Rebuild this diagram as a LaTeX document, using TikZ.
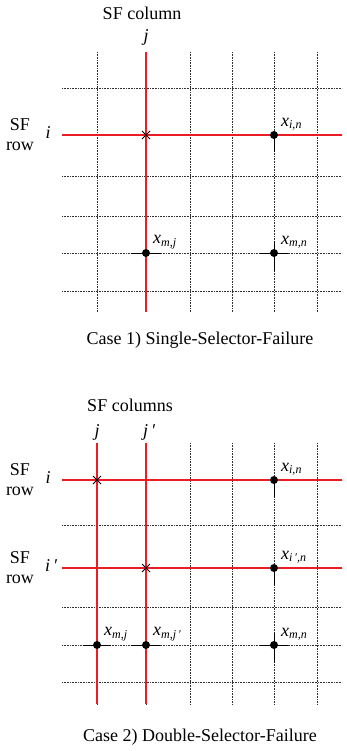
\documentclass[tikz,border=0pt]{standalone}
\usepackage{fontspec}
\setmainfont{Liberation Serif}
\usetikzlibrary{positioning, shapes.misc}

\definecolor{sfred}{RGB}{236,28,36}
\newcommand{\cellvar}[2]{\textit{#1}\raisebox{-0.3ex}{\fontsize{12}{13}\selectfont\textit{#2}}}

\begin{document}
\begin{tikzpicture}[x=1pt, y=-1pt,
		gridline/.style={black!80, line width=0.6pt, dash pattern=on 0.7pt off 0.9pt},
		sfline/.style={sfred, line width=1.9pt},
		tickline/.style={black, line width=0.7pt},
		bit/.style={circle, fill=black, inner sep=0pt, minimum size=8pt},
		failbit/.style={draw, cross out, inner sep=0pt, minimum size=7pt, line width=1pt},
		lbl/.style={font=\fontsize{18}{20}\selectfont},
		idx/.style={font=\fontsize{18}{20}\selectfont\itshape},
		varlbl/.style={font=\fontsize{18}{20}\selectfont, inner sep=1pt, anchor=south west}]
	\useasboundingbox (0,0) rectangle (347,751);
	% ---------- case 1: one failed row and one failed column ----------
	\foreach \cx in {97,146,190,232,274,317}
	\draw[gridline] (\cx,52) -- (\cx,312);
	\foreach \ry in {88,135,176,216,253,291}
	\draw[gridline] (62,\ry) -- (342,\ry);
	\draw[sfline] (146,52) -- (146,312);
	\draw[sfline] (62,135) -- (342,135);
	% short solid ticks round the read bits
	\draw[tickline] (274,135) -- (274,152);
	\draw[tickline] (131,253) -- (161,253);
	\draw[tickline] (260,253) -- (288,253) (274,241) -- (274,271);
	\node[failbit] (fail1) at (146,135) {};
	\node[bit] (in1) at (274,135) {};
	\node[bit] (mj1) at (146,253) {};
	\node[bit] (mn1) at (274,253) {};
	\node[varlbl] at ([xshift=3pt, yshift=0pt]in1.north east) {\cellvar{x}{i,n}};
	\node[varlbl] at ([xshift=3pt, yshift=0pt]mj1.north east) {\cellvar{x}{m,j}};
	\node[varlbl] at ([xshift=3pt, yshift=0pt]mn1.north east) {\cellvar{x}{m,n}};
	\node[lbl] (col1) at (142,13) {SF column};
	\node[idx] (j1) at (146,37) {j};
	\node[lbl, align=center] (row1) at (20,135) {SF\\row};
	\node[idx] (i1) at (48,133) {i};
	\node[lbl] (case1) at (200,340) {Case 1) Single-Selector-Failure};
	% ---------- case 2: two failed rows and two failed columns ----------
	\foreach \cx in {97,146,190,232,274,317}
	\draw[gridline] (\cx,443) -- (\cx,704);
	\foreach \ry in {480,525,568,607,645,682}
	\draw[gridline] (62,\ry) -- (342,\ry);
	\foreach \cx in {97,146}
	\draw[sfline] (\cx,443) -- (\cx,704);
	\foreach \ry in {480,568}
	\draw[sfline] (62,\ry) -- (342,\ry);
	\draw[tickline] (274,480) -- (274,497);
	\draw[tickline] (274,568) -- (274,585);
	\draw[tickline] (83,645) -- (111,645) (131,645) -- (160,645);
	\draw[tickline] (260,645) -- (288,645) (274,633) -- (274,663);
	\node[failbit] (fail2) at (97,480) {};
	\node[failbit] (fail3) at (146,568) {};
	\node[bit] (in2) at (274,480) {};
	\node[bit] (ipn2) at (274,568) {};
	\node[bit] (mj2) at (97,645) {};
	\node[bit] (mjp2) at (146,645) {};
	\node[bit] (mn2) at (274,645) {};
	\node[varlbl] at ([xshift=3pt, yshift=0pt]in2.north east) {\cellvar{x}{i,n}};
	\node[varlbl] at ([xshift=3pt, yshift=0pt]ipn2.north east) {\cellvar{x}{i\,′,n}};
	\node[varlbl] at ([xshift=3pt, yshift=0pt]mj2.north east) {\cellvar{x}{m,j}};
	\node[varlbl] at ([xshift=3pt, yshift=0pt]mjp2.north east) {\cellvar{x}{m,j\,′}};
	\node[varlbl] at ([xshift=3pt, yshift=0pt]mn2.north east) {\cellvar{x}{m,n}};
	\node[lbl] (col2) at (130,405) {SF columns};
	\node[idx] (j2) at (97,432) {j};
	\node[idx] (jp2) at (149,432) {j\,′};
	\node[lbl, align=center] (row2) at (20,480) {SF\\row};
	\node[idx] (i2) at (48,478) {i};
	\node[lbl, align=center] (row3) at (20,568) {SF\\row};
	\node[idx] (ip2) at (51,566) {i\,′};
	\node[lbl] (case2) at (200,737) {Case 2) Double-Selector-Failure};
\end{tikzpicture}
\end{document}
